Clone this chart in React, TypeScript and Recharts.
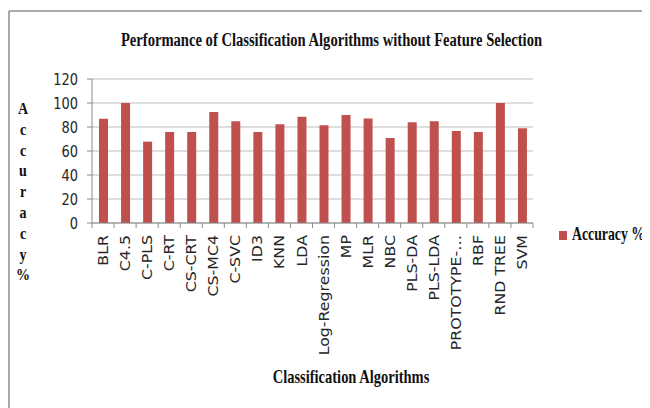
import React from "react";
import { BarChart, Bar, XAxis, YAxis, CartesianGrid } from "recharts";

const categories = [
  "BLR", "C4.5", "C-PLS", "C-RT", "CS-CRT", "CS-MC4", "C-SVC", "ID3", "KNN", "LDA",
  "Log-Regression", "MP", "MLR", "NBC", "PLS-DA", "PLS-LDA", "PROTOTYPE-…", "RBF", "RND TREE", "SVM",
];
const accuracy = [
  86.9, 100, 67.8, 75.8, 75.8, 92.5, 84.7, 75.8, 82.2, 88.6,
  81.4, 90, 87, 70.8, 83.9, 84.7, 76.7, 75.8, 100, 78.9,
];
const yTicks = [0, 20, 40, 60, 80, 100, 120];
const yLabelLetters = ["A", "c", "c", "u", "r", "a", "c", "y", "%"];

const data = categories.map((c, i) => ({ name: c, accuracy: accuracy[i] }));

const W = 642;
const H = 400;
const M = { top: 71, right: 117, bottom: 35, left: 44 };
const Y_W = 40;
const PLOT_W = W - M.left - M.right - Y_W;
const BAND = PLOT_W / categories.length;

const XTick = (props: any) => {
  const { x, y, payload, index } = props;
  const axisY = y - 12;
  return (
    <g>
      <line x1={x - BAND / 2} x2={x - BAND / 2} y1={axisY} y2={axisY + 5} stroke="#8a8a8a" />
      {index === categories.length - 1 && (
        <line x1={x + BAND / 2} x2={x + BAND / 2} y1={axisY} y2={axisY + 5} stroke="#8a8a8a" />
      )}
      <text
        transform={`translate(${x},${y}) rotate(-90) scale(1.13,1)`}
        textAnchor="end"
        dy="0.36em"
        fontFamily="DejaVu Sans"
        fontSize={14}
        fill="#262626"
      >
        {payload.value}
      </text>
    </g>
  );
};

const YTick = (props: any) => {
  const { x, y, payload } = props;
  return (
    <text
      transform={`translate(${x},${y}) scale(1,1.25)`}
      textAnchor="end"
      dy="0.36em"
      fontFamily="DejaVu Sans"
      fontSize={13}
      fill="#262626"
    >
      {payload.value}
    </text>
  );
};

const serif = "Liberation Serif";

export default function App() {
  return (
    <div style={{ position: "relative", width: W, height: H }}>
      <BarChart width={W} height={H} data={data} margin={M}>
        <CartesianGrid vertical={false} stroke="#bdbdbd" />
        <XAxis
          dataKey="name"
          interval={0}
          height={150}
          tickLine={false}
          tickSize={5}
          tickMargin={7}
          stroke="#8a8a8a"
          tick={<XTick />}
        />
        <YAxis
          width={Y_W}
          domain={[0, 120]}
          ticks={yTicks}
          tickSize={5}
          tickMargin={9}
          stroke="#8a8a8a"
          tick={<YTick />}
        />
        <Bar dataKey="accuracy" fill="#C0504D" barSize={9} isAnimationActive={false} />
      </BarChart>
      <svg
        width={W}
        height={H}
        style={{ position: "absolute", left: 0, top: 0, pointerEvents: "none" }}
      >
        <line x1={1} y1={3} x2={W} y2={3} stroke="#8c8c8c" strokeWidth={1.5} />
        <line x1={1} y1={3} x2={1} y2={H} stroke="#8c8c8c" strokeWidth={1.5} />
        <text
          transform="translate(323.5,38) scale(1,1.25)"
          textAnchor="middle"
          fontFamily={serif}
          fontWeight="bold"
          fontSize={14.6}
          fill="#111"
        >
          Performance of Classification Algorithms without Feature Selection
        </text>
        <text
          transform="translate(343,375) scale(1,1.25)"
          textAnchor="middle"
          fontFamily={serif}
          fontWeight="bold"
          fontSize={14.5}
          fill="#111"
        >
          Classification Algorithms
        </text>
        {yLabelLetters.map((ch, i) => (
          <text
            key={i}
            transform={`translate(15,${106 + i * 20.8}) scale(1,1.25)`}
            textAnchor="middle"
            fontFamily={serif}
            fontWeight="bold"
            fontSize={14}
            fill="#111"
          >
            {ch}
          </text>
        ))}
        <rect x={551} y={223} width={8} height={9} fill="#C0504D" />
        <text
          transform="translate(564,232) scale(1,1.25)"
          fontFamily={serif}
          fontWeight="bold"
          fontSize={14.5}
          textLength={73}
          lengthAdjust="spacingAndGlyphs"
          fill="#111"
        >
          Accuracy %
        </text>
      </svg>
    </div>
  );
}
